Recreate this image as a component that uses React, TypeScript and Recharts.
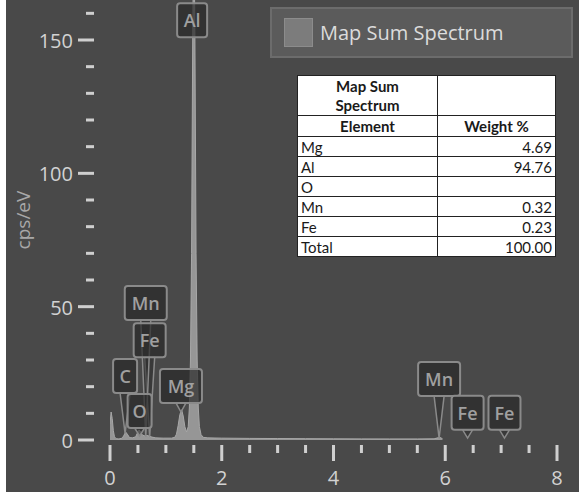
import React from "react";
import { AreaChart, Area, XAxis, YAxis, ReferenceDot, ReferenceLine } from "recharts";

// spectrum (keV, cps/eV)
const energy = [
  0, 0.02, 0.04, 0.06, 0.08, 0.11, 0.16, 0.22, 0.25, 0.28, 0.31, 0.35, 0.4, 0.46, 0.49, 0.52, 0.55, 0.58,
  0.62, 0.66, 0.7, 0.75, 0.82, 0.95, 1.1, 1.16, 1.19, 1.22, 1.25, 1.28, 1.31, 1.34, 1.37, 1.4, 1.42, 1.44,
  1.46, 1.48, 1.5, 1.52, 1.54, 1.56, 1.58, 1.6, 1.63, 1.67, 1.75, 2, 2.5, 3, 3.5, 4, 4.5, 5, 5.5, 5.8, 5.9, 5.95,
];
const counts = [
  6, 10.5, 8, 3.5, 1.2, 0.5, 0.4, 0.7, 1.8, 3, 2.2, 0.9, 0.8, 1.2, 2.6, 3.8, 3, 1.8,
  1.6, 1.7, 1.5, 1.1, 0.8, 0.7, 0.7, 1, 2.2, 5.5, 9.5, 11.5, 9, 5, 3, 5, 12, 30,
  70, 150, 200, 150, 70, 30, 12, 5, 2, 1, 0.8, 0.7, 0.6, 0.55, 0.5, 0.45, 0.42, 0.4, 0.4, 0.45, 1, 0.5,
];

const xTicks = [0, 0.5, 1, 1.5, 2, 2.5, 3, 3.5, 4, 4.5, 5, 5.5, 6, 6.5, 7, 7.5, 8];
const yTicks = [0, 10, 20, 30, 40, 50, 60, 70, 80, 90, 100, 110, 120, 130, 140, 150, 160];

// element markers: name, line energy, pointer tip, label bottom (cps/eV)
const peakNames = ["C", "O", "Fe", "Mn", "Mg", "Al", "Mn", "Fe", "Fe"];
const peakEnergy = [0.27, 0.53, 0.71, 0.64, 1.27, 1.47, 5.89, 6.4, 7.06];
const peakTip = [2.5, 1.5, 1.2, 1.2, 10.5, 151, 0.7, 0.7, 0.7];
const labelBase = [17.6, 4.5, 31, 45, 13.9, 151, 16.5, 3.8, 3.8];

const tableElements = ["Mg", "Al", "O", "Mn", "Fe", "Total"];
const tableWeights = ["4.69", "94.76", "", "0.32", "0.23", "100.00"];

const data = energy.map((e, i) => ({ e, c: counts[i] }));

const boxWidth: Record<string, number> = { Al: 30, Mn: 42, Fe: 32, C: 24, O: 24, Mg: 42 };
const axisFont = "'Open Sans', 'Noto Sans', sans-serif";

function XTick({ x, y, payload }: any) {
  const v = payload.value;
  const major = v % 2 === 0;
  return (
    <g>
      <rect x={x - 1.5} y={y + 5} width={3} height={major ? 16 : 8} fill="#cfcfcf" />
      {major && (
        <text x={x} y={y + 45} textAnchor="middle" fontSize={20} fontFamily={axisFont} fill="#d2d2d2">
          {v}
        </text>
      )}
    </g>
  );
}

function YTick({ x, y, payload }: any) {
  const v = payload.value;
  const major = v % 50 === 0;
  return (
    <g>
      <rect x={major ? x - 32 : x - 24} y={y - 1.5} width={major ? 16 : 8} height={3} fill="#cfcfcf" />
      {major && (
        <text x={x - 37} y={y + 8} textAnchor="end" fontSize={20} fontFamily={axisFont} fill="#d2d2d2">
          {v}
        </text>
      )}
    </g>
  );
}

function Pointer(props: any) {
  const { x1, y1, x2, y2 } = props;
  return (
    <polygon
      points={`${x2 - 5},${y2} ${x2 + 5},${y2} ${x1},${y1}`}
      fill="#2e2e2e"
      fillOpacity={0.6}
      stroke="#8a8a8a"
      strokeWidth={1.5}
    />
  );
}

function makeBox(name: string) {
  return (props: any) => {
    const { cx, cy } = props;
    const w = boxWidth[name];
    return (
      <g>
        <rect x={cx - w / 2} y={cy - 34} width={w} height={34} rx={3} fill="#2a2a2a" fillOpacity={0.7} stroke="#8a8a8a" strokeWidth={2} />
        <text x={cx} y={cy - 10} textAnchor="middle" fontSize={18} fontWeight={600} fontFamily={axisFont} fill="#a0a0a0">
          {name}
        </text>
      </g>
    );
  };
}

const cell: React.CSSProperties = { border: "1px solid #222", padding: "0 3px", height: 19, lineHeight: "18px" };

export default function App() {
  return (
    <div style={{ position: "absolute", left: 0, top: 0, width: 579, height: 495, background: "#ffffff" }}>
      <div style={{ position: "absolute", left: 6, top: 0, width: 573, height: 492, background: "#494949" }} />
      <div style={{ position: "absolute", left: 0, top: 0 }}>
        <AreaChart width={579} height={495} data={data} margin={{ top: 0, right: 22, bottom: 0, left: 0 }}>
          <XAxis
            dataKey="e"
            type="number"
            domain={[0, 8]}
            ticks={xTicks}
            interval={0}
            tickSize={0}
            tickMargin={0}
            axisLine={false}
            tickLine={false}
            height={55}
            tick={<XTick />}
            allowDataOverflow
          />
          <YAxis
            type="number"
            domain={[0, 165]}
            ticks={yTicks}
            interval={0}
            tickSize={0}
            tickMargin={0}
            axisLine={false}
            tickLine={false}
            width={110}
            tick={<YTick />}
            allowDataOverflow
            label={{
              content: ({ viewBox }: any) => {
                const lx = viewBox.x + 23;
                const ly = viewBox.y + viewBox.height / 2;
                return (
                  <text x={lx} y={ly} transform={`rotate(-90 ${lx} ${ly})`} textAnchor="middle" dominantBaseline="central" fontSize={19} fontFamily={axisFont} fill="#a8a8a8">
                    cps/eV
                  </text>
                );
              },
            }}
          />
          <Area
            type="linear"
            dataKey="c"
            name="Map Sum Spectrum"
            stroke="#a8a8a8"
            strokeWidth={1}
            fill="#969696"
            fillOpacity={1}
            isAnimationActive={false}
            dot={false}
            activeDot={false}
          />
          {peakNames.map((name, i) =>
            peakTip[i] !== labelBase[i] ? (
              <ReferenceLine
                key={`p${i}`}
                segment={[
                  { x: peakEnergy[i], y: peakTip[i] },
                  { x: peakEnergy[i], y: labelBase[i] },
                ]}
                shape={Pointer}
              />
            ) : null
          )}
          {peakNames.map((name, i) => (
            <ReferenceDot key={`b${i}`} x={peakEnergy[i]} y={labelBase[i]} r={0} shape={makeBox(name)} />
          ))}
        </AreaChart>
      </div>

      {/* legend */}
      <div
        style={{
          position: "absolute",
          left: 270,
          top: 7,
          width: 299,
          height: 47,
          background: "#5b5b5b",
          border: "2px solid #6c6c6c",
          display: "flex",
          alignItems: "center",
        }}
      >
        <div style={{ width: 27, height: 27, marginLeft: 12, background: "#7c7c7c", border: "1px solid #8c8c8c" }} />
        <span style={{ marginLeft: 7, fontFamily: axisFont, fontSize: 20, color: "#dcdcdc" }}>Map Sum Spectrum</span>
      </div>

      {/* weight % table */}
      <table
        style={{
          position: "absolute",
          left: 297,
          top: 75,
          width: 259,
          borderCollapse: "collapse",
          background: "#ffffff",
          fontFamily: "Lato, 'Liberation Sans', sans-serif",
          fontSize: 15,
          color: "#1a1a1a",
        }}
      >
        <tbody>
          <tr>
            <td style={{ ...cell, width: 133, height: 39, lineHeight: "19px", textAlign: "center", fontWeight: 700 }}>
              Map Sum
              <br />
              Spectrum
            </td>
            <td style={cell}></td>
          </tr>
          <tr>
            <td style={{ ...cell, height: 20, textAlign: "center", fontWeight: 700 }}>Element</td>
            <td style={{ ...cell, height: 20, textAlign: "center", fontWeight: 700 }}>Weight %</td>
          </tr>
          {tableElements.map((el, i) => (
            <tr key={el}>
              <td style={cell}>{el}</td>
              <td style={{ ...cell, textAlign: "right" }}>{tableWeights[i]}</td>
            </tr>
          ))}
        </tbody>
      </table>
    </div>
  );
}
